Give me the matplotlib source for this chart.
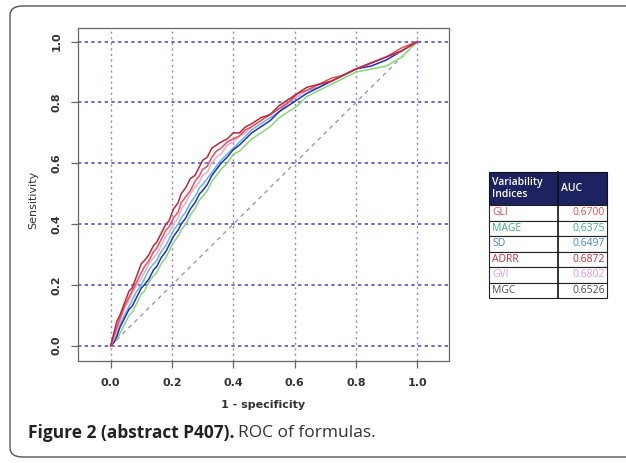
import matplotlib
matplotlib.use("Agg")
import matplotlib.pyplot as plt
from matplotlib.patches import FancyBboxPatch, Rectangle

# ROC data
fpr = [0, 0.01, 0.02, 0.03, 0.045, 0.06, 0.07, 0.085, 0.10, 0.11, 0.125, 0.14,
       0.15, 0.165, 0.18, 0.19, 0.205, 0.22, 0.23, 0.245, 0.26, 0.275, 0.29, 0.30,
       0.315, 0.33, 0.345, 0.36, 0.38, 0.40, 0.42, 0.44, 0.46, 0.49, 0.52, 0.55,
       0.58, 0.61, 0.64, 0.68, 0.72, 0.76, 0.80, 0.85, 0.90, 0.95, 1.0]

tpr_gli = [0, .03, .06, .09, .13, .16, .18, .21, .24, .26, .28, .31, .32, .35,
           .38, .39, .42, .44, .47, .49, .51, .54, .56, .58, .59, .62, .64, .65,
           .67, .68, .69, .71, .72, .74, .76, .78, .80, .83, .84, .86, .88, .89,
           .91, .93, .95, .98, 1.0]
tpr_mage = [0, .01, .02, .04, .07, .10, .11, .14, .17, .18, .21, .23, .24, .27,
            .29, .31, .34, .36, .38, .40, .43, .45, .48, .49, .51, .54, .56, .58,
            .60, .63, .64, .66, .68, .70, .72, .75, .77, .79, .82, .84, .86, .88,
            .90, .91, .92, .95, 1.0]
tpr_sd = [0, .01, .03, .06, .09, .12, .13, .16, .19, .20, .22, .25, .26, .29,
          .31, .33, .36, .38, .40, .42, .45, .47, .50, .51, .53, .56, .58, .60,
          .62, .645, .66, .68, .70, .72, .74, .77, .79, .81, .83, .85, .87, .89,
          .91, .92, .94, .97, 1.0]
tpr_adrr = [0, .04, .08, .10, .14, .18, .19, .23, .27, .28, .30, .33, .34, .37,
            .40, .41, .45, .47, .50, .52, .55, .56, .59, .61, .62, .65, .66, .67,
            .68, .70, .70, .72, .73, .75, .76, .79, .81, .83, .85, .86, .87, .89,
            .91, .93, .95, .97, 1.0]
tpr_gvi = [0, .02, .05, .08, .12, .15, .17, .20, .22, .24, .27, .29, .30, .33,
           .36, .37, .40, .42, .45, .47, .50, .52, .54, .56, .57, .60, .62, .63,
           .66, .67, .69, .70, .72, .74, .76, .78, .81, .82, .84, .86, .87, .89,
           .91, .93, .95, .97, 1.0]
tpr_mgc = [0, .02, .04, .07, .10, .13, .15, .18, .20, .22, .25, .27, .28, .31,
           .33, .35, .38, .40, .42, .44, .47, .49, .52, .53, .55, .57, .59, .61,
           .63, .65, .67, .69, .71, .73, .75, .77, .80, .82, .84, .85, .87, .89,
           .91, .93, .95, .97, 1.0]

indices = ["GLI", "MAGE", "SD", "ADRR", "GVI", "MGC"]
auc = ["0.6700", "0.6375", "0.6497", "0.6872", "0.6802", "0.6526"]
text_colors = ["#e0505a", "#3fae7e", "#4a86c0", "#c0303e", "#ec98d8", "#505050"]
line_colors = ["#e8505a", "#86d872", "#2a2ac8", "#b82838", "#f0a8d4", "#58c0d8"]
curves = [tpr_gli, tpr_mage, tpr_sd, tpr_adrr, tpr_gvi, tpr_mgc]

ticks = [0.0, 0.2, 0.4, 0.6, 0.8, 1.0]

W, H = 626, 463
fig = plt.figure(figsize=(W / 100, H / 100), dpi=100)

# outer rounded frame (runs off the right edge)
frame = FancyBboxPatch((10 / W, 6 / H), 640 / W, 451 / H,
                       boxstyle="round,pad=0,rounding_size=0.02",
                       transform=fig.transFigure, fill=False,
                       edgecolor="#555555", linewidth=1.0)
fig.patches.append(frame)

ax = fig.add_axes([78 / W, 1 - 361 / H, 371 / W, 333 / H])
ax.set_xlim(-0.1067, 1.1038)
ax.set_ylim(-0.0503, 1.045)

for t in ticks:
    ax.axhline(t, color="#5a50c8", linestyle=(0, (2, 2)), linewidth=1.2, zorder=1)
    ax.axvline(t, color="#8c84d4", linestyle=(0, (1.5, 2.5)), linewidth=1.0, zorder=1)
ax.plot([0, 1], [0, 1], color="#9a98b8", linestyle=(0, (3, 3)), linewidth=1.0, zorder=1)

order = [1, 5, 2, 4, 0, 3]
for i in order:
    ax.plot(fpr, curves[i], color=line_colors[i], linewidth=1.1, zorder=2)

for s in ax.spines.values():
    s.set_color("#666666")
    s.set_linewidth(0.9)

ax.set_xticks(ticks)
ax.set_yticks(ticks)
ax.set_xticklabels(["%.1f" % t for t in ticks])
ax.set_yticklabels(["%.1f" % t for t in ticks], rotation=90, va="center")
ax.tick_params(length=5, width=0.9, color="#666666", labelsize=8,
               labelcolor="#333333", pad=7)
for lab in ax.get_xticklabels() + ax.get_yticklabels():
    lab.set_fontweight("bold")

fig.text(263 / W, 1 - 405 / H, "1 - specificity", ha="center", va="center",
         fontsize=8, fontweight="bold", color="#333333")
fig.text(33 / W, 1 - 200 / H, "Sensitivity", ha="center", va="center",
         rotation=90, fontsize=8, color="#333333")

# AUC table
tx0, tx1, tmid = 489, 607, 558
ty0, thead, rh = 172, 33, 15.5
fig.patches.append(Rectangle((tx0 / W, 1 - (ty0 + thead) / H), (tx1 - tx0) / W,
                             thead / H, transform=fig.transFigure,
                             facecolor="#1c2360", edgecolor="#111111", lw=0.8))
fig.text((tx0 + 3) / W, 1 - (ty0 + thead / 2) / H, "Variability\nIndices",
         ha="left", va="center", fontsize=7.5, color="white", fontweight="semibold",
         family="Open Sans", linespacing=1.1)
fig.text((tmid + 3) / W, 1 - (ty0 + thead / 2) / H, "AUC", ha="left",
         va="center", fontsize=7.5, color="white", fontweight="semibold",
         family="Open Sans")
for k, name in enumerate(indices):
    y_top = ty0 + thead + k * rh
    fig.patches.append(Rectangle((tx0 / W, 1 - (y_top + rh) / H),
                                 (tx1 - tx0) / W, rh / H,
                                 transform=fig.transFigure, facecolor="white",
                                 edgecolor="#222222", lw=0.8))
    fig.text((tx0 + 3) / W, 1 - (y_top + rh / 2) / H, name, ha="left",
             va="center", fontsize=7.5, color=text_colors[k], family="Open Sans")
    fig.text((tx1 - 2) / W, 1 - (y_top + rh / 2) / H, auc[k], ha="right",
             va="center", fontsize=7.5, color=text_colors[k], family="Open Sans")
fig.add_artist(plt.Line2D([tmid / W, tmid / W], [1 - (ty0 + thead + 6 * rh) / H,
                                                 1 - ty0 / H],
                          transform=fig.transFigure, color="#111111", lw=1.2))

# caption
cap = fig.text(28 / W, 1 - 433 / H, "Figure 2 (abstract P407).", ha="left",
               va="center", fontsize=12.5, fontweight="bold", family="Open Sans",
               color="#222222")
fig.canvas.draw()
bb = cap.get_window_extent()
fig.text((bb.x1 + 4) / W, 1 - 433 / H, "ROC of formulas.", ha="left",
         va="center", fontsize=12.5, family="Open Sans", color="#333333")

fig.savefig("out.png", dpi=100)
